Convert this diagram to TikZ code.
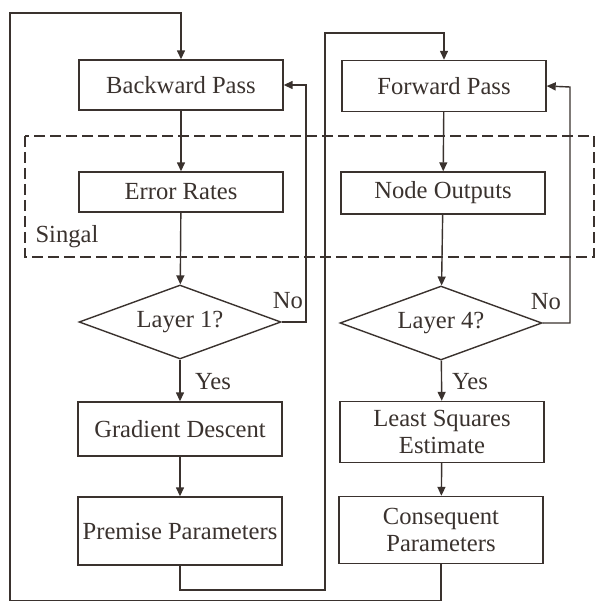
\documentclass[tikz,border=0pt]{standalone}
\usepackage{fontspec}
\setmainfont{Liberation Serif}
\usetikzlibrary{arrows.meta,shapes.geometric}
\definecolor{ink}{RGB}{58,50,46}
\begin{document}
\begin{tikzpicture}[x=0.02cm,y=-0.02cm,line width=0.8pt,draw=ink,
    every node/.style={font=\fontsize{14}{15.5}\selectfont,text=ink},
    box/.style={draw=ink,rectangle,minimum width=4.08cm,align=center,inner sep=1pt},
    test/.style={draw=ink,diamond,aspect=2.7,minimum width=4.04cm,minimum height=1.48cm,inner sep=0pt},
    arr/.style={-{Triangle[length=1.8mm,width=1.6mm]}},
    signal/.style={dash pattern=on 0.22cm off 0.1cm,line width=1.6pt}]
    \useasboundingbox (0,0) rectangle (599,601);
    % left column
    \node[box,minimum height=1.0cm] (bp) at (181,85) {Backward Pass};
    \node[box,minimum height=0.8cm] (er) at (181,192) {Error Rates};
    \node[test] (l1) at (180,322) {Layer 1?};
    \node[box,minimum height=1.08cm] (gd) at (180,429) {Gradient Descent};
    \node[box,minimum height=1.36cm] (pp) at (180,531) {Premise Parameters};
    % right column
    \node[box,minimum height=1.02cm] (fp) at (444,86) {Forward Pass};
    \node[box,minimum height=0.84cm] (no) at (443,193) {Node Outputs};
    \node[test] (l4) at (441,323) {Layer 4?};
    \node[box,minimum height=1.22cm] (ls) at (442,432) {Least Squares\\Estimate};
    \node[box,minimum height=1.34cm] (cp) at (441,530) {Consequent\\Parameters};
    % signal region
    \draw[signal] (25,136) rectangle (594,257);
    \node (sg) at (67,237) {Singal};
    % labels
    \node (y1) at (213,382) {Yes};
    \node (n1) at (288,301) {No};
    \node (y4) at (470,382) {Yes};
    \node (n4) at (546,302) {No};
    % connectors
    \draw[arr] (bp) -- (er);
    \draw[arr] (er) -- (l1);
    \draw[arr] (l1) -- (gd);
    \draw[arr] (gd) -- (pp);
    \draw[arr] (l1.east) -- (306,322) -- (306,85) -- (bp.east);
    \draw[arr] (fp) -- (no);
    \draw[arr] (no) -- (l4);
    \draw[arr] (l4) -- (ls);
    \draw[arr] (ls) -- (cp);
    \draw[arr] (l4.east) -- (570,323) -- (570,87) -- (fp.east);
    \draw[arr] (pp.south) -- (180,590) -- (325,590) -- (325,33) -- (444,33) -- (fp.north);
    \draw[arr] (cp.south) -- (441,601) -- (10,601) -- (10,13) -- (181,13) -- (bp.north);
\end{tikzpicture}
\end{document}
